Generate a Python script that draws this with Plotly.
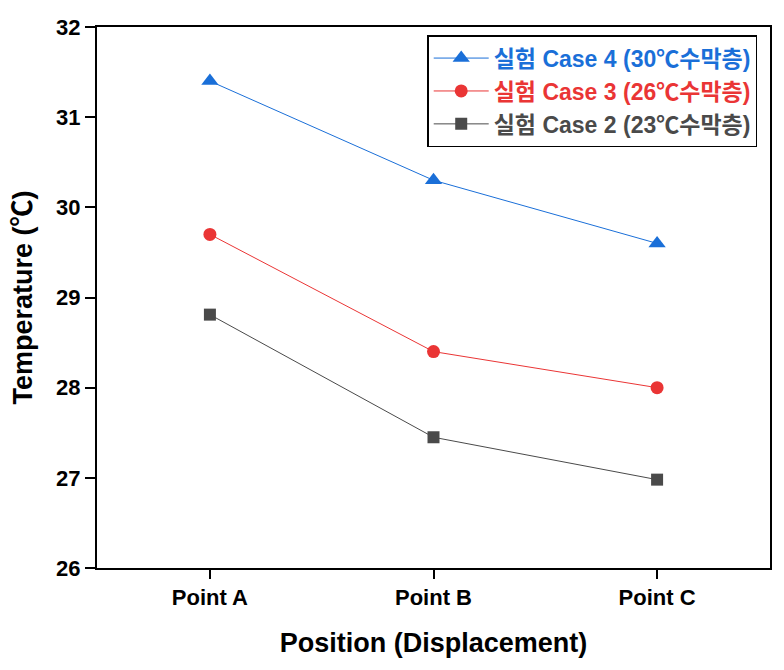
import plotly.graph_objects as go

categories = ["Point A", "Point B", "Point C"]
case4 = [31.4, 30.3, 29.6]
case3 = [29.7, 28.4, 28.0]
case2 = [28.81, 27.45, 26.98]
names = ["실험 Case 4 (30℃수막층)", "실험 Case 3 (26℃수막층)", "실험 Case 2 (23℃수막층)"]
colors = ["#1a6fd8", "#ea3535", "#4a4a4a"]
symbols = ["triangle-up", "circle", "square"]
msizes = [15, 13, 12]
y_ticks = [26, 27, 28, 29, 30, 31, 32]

fig = go.Figure()
for vals, name, col, sym, ms in zip([case4, case3, case2], names, colors, symbols, msizes):
    fig.add_trace(go.Scatter(
        x=list(range(len(categories))), y=vals, mode="lines+markers",
        name=f"<span style='color:{col}'><b>{name}</b></span>",
        line=dict(color=col, width=1),
        marker=dict(symbol=sym, size=ms, color=col),
    ))

font_family = "Liberation Sans, Arial, Noto Sans CJK KR, sans-serif"
# note: page body has an 8px default margin, so figure margins are offset accordingly
fig.update_layout(
    width=784, height=670,
    margin=dict(l=89, r=22, t=19, b=110),
    plot_bgcolor="white", paper_bgcolor="white",
    font=dict(family=font_family, color="black"),
    showlegend=True,
    legend=dict(
        x=0.981, y=0.985, xanchor="right", yanchor="top",
        bordercolor="black", borderwidth=1.5, bgcolor="white",
        font=dict(size=23, family=font_family),
        tracegroupgap=0, itemwidth=55,
    ),
    xaxis=dict(
        range=[-0.505, 2.505], tickmode="array",
        tickvals=list(range(len(categories))), ticktext=[f"<b>{c}</b>" for c in categories],
        ticks="outside", ticklen=9, tickwidth=1.5, tickcolor="black",
        showline=True, linecolor="black", linewidth=2, mirror=True,
        showgrid=False, zeroline=False, automargin=False,
        tickfont=dict(size=22),
        title=dict(text="<b>Position (Displacement)</b>", font=dict(size=27), standoff=24),
    ),
    yaxis=dict(
        range=[26, 32], tickmode="array", tickvals=y_ticks,
        ticktext=[f"<b>{t}</b>" for t in y_ticks],
        ticks="outside", ticklen=10, tickwidth=1.5, tickcolor="black",
        showline=True, linecolor="black", linewidth=2, mirror=True,
        showgrid=False, zeroline=False, automargin=False,
        tickfont=dict(size=22),
        title=dict(text="<b>Temperature (℃)</b>", font=dict(size=27), standoff=16),
    ),
)

fig.write_html("out.html")
